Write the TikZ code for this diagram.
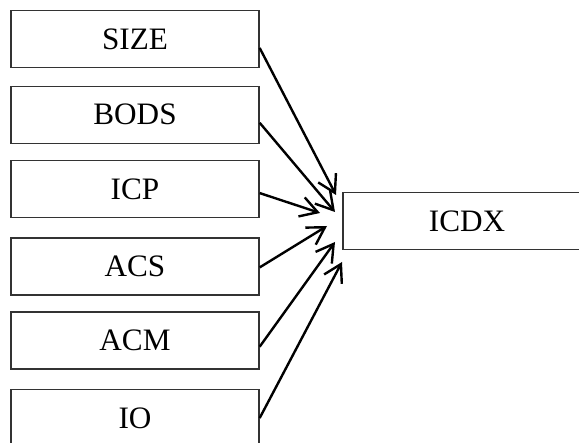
\documentclass[tikz,border=0pt]{standalone}
\usepackage{fontspec}
\setmainfont{Liberation Serif}
\usetikzlibrary{arrows.meta}

\begin{document}
\begin{tikzpicture}[x=0.5pt,y=-0.5pt]
		\tikzstyle{fleche}=[-{Straight Barb[length=8.5pt,width=10pt]},line width=1.2pt,black]
		\tikzstyle{boite}=[draw=black!80,line width=0.7pt,minimum width=124pt,minimum height=28.5pt,inner sep=0pt,font=\fontsize{15.6}{18}\selectfont]
		
		\def\ColonneGauche{135}
		\def\ColonneDroite{467}
		\def\DistanceInterBoites{75.8}
		\def\Haut{39}
		
		\useasboundingbox (0,0) rectangle (579,443);
		
		% variables explicatives
		\node[boite] (SIZE) at ({\ColonneGauche},{\Haut+(0)*\DistanceInterBoites}) {SIZE};
		\node[boite] (BODS) at ({\ColonneGauche},{\Haut+(1)*\DistanceInterBoites}) {BODS};
		\node[boite] (ICP) at ({\ColonneGauche},{\Haut+(1.98)*\DistanceInterBoites}) {ICP};
		\node[boite] (ACS) at ({\ColonneGauche},{\Haut+(3)*\DistanceInterBoites}) {ACS};
		\node[boite] (ACM) at ({\ColonneGauche},{\Haut+(3.98)*\DistanceInterBoites}) {ACM};
		\node[boite] (IO) at ({\ColonneGauche},{\Haut+(5)*\DistanceInterBoites}) {IO};
		
		% variable expliquee
		\node[boite] (ICDX) at ({\ColonneDroite},221) {ICDX};
		
		\coordinate (pSIZE) at (336,195);
		\coordinate (pBODS) at (335,212);
		\coordinate (pICP) at (320,213);
		\coordinate (pACS) at (327,226);
		\coordinate (pACM) at (335,242);
		\coordinate (pIO) at (342,262);
		
		\draw[fleche] ([yshift=-4.5pt]SIZE.east)--(pSIZE);
		\draw[fleche] ([yshift=-4pt]BODS.east)--(pBODS);
		\draw[fleche] ([yshift=-2pt]ICP.east)--(pICP);
		\draw[fleche] ([yshift=-0.5pt]ACS.east)--(pACS);
		\draw[fleche] ([yshift=-3pt]ACM.east)--(pACM);
		\draw[fleche] (IO.east)--(pIO);
	\end{tikzpicture}
\end{document}
